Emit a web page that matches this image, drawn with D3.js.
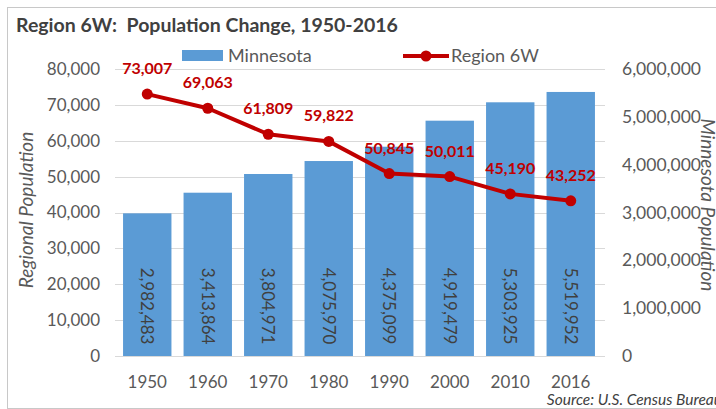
<head>
<script src="https://cdn.jsdelivr.net/npm/d3@7"></script>
<style>
  body { margin: 0; background: white; }
  text { font-family: Lato, "Open Sans", sans-serif; white-space: pre; }
</style>
</head>
<body>
<script>
// chart data
const years = ["1950", "1960", "1970", "1980", "1990", "2000", "2010", "2016"];
const minnesota = [2982483, 3413864, 3804971, 4075970, 4375099, 4919479, 5303925, 5519952];
const region6w = [73007, 69063, 61809, 59822, 50845, 50011, 45190, 43252];
const leftTicks = [0, 10000, 20000, 30000, 40000, 50000, 60000, 70000, 80000];
const rightTicks = [0, 1000000, 2000000, 3000000, 4000000, 5000000, 6000000];

const W = 716, H = 409;
const svg = d3.select("body").append("svg").attr("width", W).attr("height", H);

// frame
svg.append("rect").attr("x", 7.5).attr("y", 7.5).attr("width", W + 10).attr("height", H - 8)
    .attr("fill", "none").attr("stroke", "#c8c8c8").attr("stroke-width", 1);

const x = d3.scaleBand().domain(years).range([117, 601]).paddingInner(0.2).paddingOuter(0.1);
const yL = d3.scaleLinear().domain([0, 80000]).range([356, 69]);
const yR = d3.scaleLinear().domain([0, 6000000]).range([356, 69]);
const fmt = d3.format(",");

// gridlines
svg.append("g").selectAll("line").data(leftTicks).enter().append("line")
    .attr("x1", 115).attr("x2", 605)
    .attr("y1", d => Math.round(yL(d)) + 0.5).attr("y2", d => Math.round(yL(d)) + 0.5)
    .attr("stroke", "#d9d9d9").attr("stroke-width", 1);

// bars
svg.append("g").selectAll("rect").data(minnesota).enter().append("rect")
    .attr("x", (d, i) => x(years[i]))
    .attr("y", d => yR(d))
    .attr("width", x.bandwidth())
    .attr("height", d => yR(0) - yR(d))
    .attr("fill", "#5b9bd5");

// bar labels (rotated)
svg.append("g").selectAll("text").data(minnesota).enter().append("text")
    .attr("transform", (d, i) => "translate(" + (x(years[i]) + x.bandwidth() / 2) + ",306) rotate(90)")
    .attr("text-anchor", "middle").attr("dy", "0.35em")
    .attr("font-size", 17).attr("fill", "#404040")
    .text(d => fmt(d));

// line
const cx = (d, i) => x(years[i]) + x.bandwidth() / 2;
const line = d3.line().x(cx).y(d => yL(d));
svg.append("path").datum(region6w).attr("d", line)
    .attr("fill", "none").attr("stroke", "#c00000").attr("stroke-width", 4).attr("stroke-linejoin", "round");
svg.append("g").selectAll("circle").data(region6w).enter().append("circle")
    .attr("cx", cx).attr("cy", d => yL(d)).attr("r", 5.5).attr("fill", "#c00000");
svg.append("g").selectAll("text").data(region6w).enter().append("text")
    .attr("x", cx).attr("y", d => yL(d) - 20)
    .attr("text-anchor", "middle").attr("font-size", 16).attr("font-weight", "bold")
    .attr("fill", "#c00000")
    .text(d => fmt(d));

// axes labels
svg.append("g").selectAll("text").data(leftTicks).enter().append("text")
    .attr("x", 100).attr("y", d => yL(d)).attr("dy", "0.35em")
    .attr("text-anchor", "end").attr("font-size", 17).attr("fill", "#595959")
    .text(d => fmt(d));
svg.append("g").selectAll("text").data(rightTicks).enter().append("text")
    .attr("x", 622).attr("y", d => yR(d)).attr("dy", "0.35em")
    .attr("font-size", 17.5).attr("fill", "#595959")
    .text(d => fmt(d));
svg.append("g").selectAll("text").data(years).enter().append("text")
    .attr("x", d => x(d) + x.bandwidth() / 2).attr("y", 388)
    .attr("text-anchor", "middle").attr("font-size", 17).attr("fill", "#595959")
    .text(d => d);

svg.append("text").attr("transform", "translate(33,210) rotate(-90)")
    .attr("text-anchor", "middle").attr("font-size", 19).attr("font-style", "italic").attr("fill", "#595959")
    .text("Regional Population");
svg.append("text").attr("transform", "translate(701,205) rotate(90)")
    .attr("text-anchor", "middle").attr("font-size", 19).attr("font-style", "italic").attr("fill", "#595959")
    .text("Minnesota Population");

// title
svg.append("text").attr("x", 16).attr("y", 32)
    .attr("font-size", 19.5).attr("font-weight", "bold").attr("fill", "#404040")
    .text("Region 6W:  Population Change, 1950-2016");

// legend
svg.append("rect").attr("x", 182).attr("y", 50).attr("width", 41).attr("height", 11).attr("fill", "#5b9bd5");
svg.append("text").attr("x", 228).attr("y", 62).attr("font-size", 18).attr("fill", "#595959").text("Minnesota");
svg.append("line").attr("x1", 403).attr("x2", 449).attr("y1", 56).attr("y2", 56)
    .attr("stroke", "#c00000").attr("stroke-width", 4);
svg.append("circle").attr("cx", 426).attr("cy", 56).attr("r", 5.5).attr("fill", "#c00000");
svg.append("text").attr("x", 451).attr("y", 62).attr("font-size", 18).attr("fill", "#595959").text("Region 6W");

// source
svg.append("text").attr("x", 722).attr("y", 405).attr("text-anchor", "end")
    .attr("font-size", 15.5).attr("font-style", "italic").attr("fill", "#404040")
    .text("Source: U.S. Census Bureau");
</script>
</body>
